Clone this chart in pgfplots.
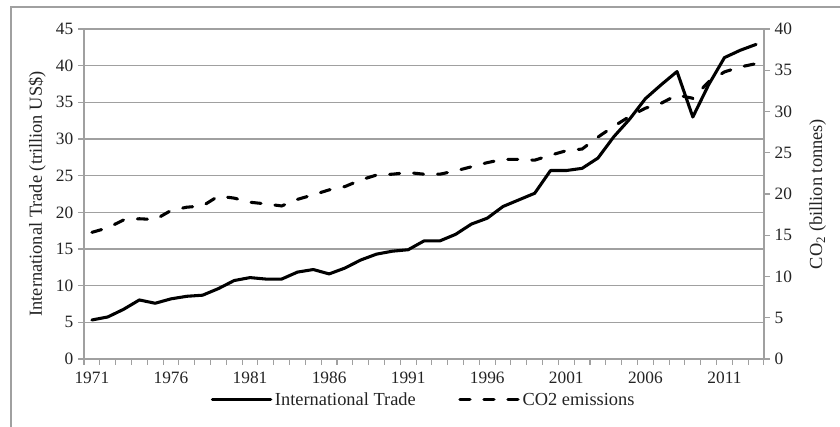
\documentclass[border=0pt]{standalone}
\usepackage{pgfplots}
\pgfplotsset{compat=1.18}
\usepackage{fontspec}
\setmainfont{Liberation Serif}
\definecolor{gridgray}{RGB}{160,160,160}
\definecolor{txt}{RGB}{35,35,35}
\begin{document}
\begin{tikzpicture}[x=0.75pt,y=0.75pt]
\path[use as bounding box] (0,0) rectangle (840,427);
\draw[gridgray, line width=0.9pt] (11,-10) -- (11,420) -- (850,420);
\pgfplotsset{
  common/.style={
    scale only axis, width=510pt, height=247.5pt,
    at={(63pt,51pt)}, anchor=south west,
    xmin=1970.5, xmax=2013.5,
    tick align=outside,
    major tick length=4.5pt, minor tick length=4.5pt,
    every tick/.style={gridgray, line width=0.8pt},
    axis line style={gridgray, line width=0.9pt},
    tick label style={font=\fontsize{13pt}{15pt}\selectfont, text=txt},
    label style={font=\fontsize{13.8pt}{16pt}\selectfont, text=txt},
    /pgf/number format/assume math mode=true,
    clip=false,
  }
}
\begin{axis}[common,
  axis y line*=left, axis x line*=bottom,
  ymin=0, ymax=45, ytick={0,5,...,45},
  ymajorgrids, grid style={gridgray, line width=0.9pt},
  xtick={1971,1976,...,2011},
  xticklabels={1971,1976,1981,1986,1991,1996,2001,2006,2011},
  major x tick style={draw=none},
  minor xtick={1970.5,1971.5,...,2013.5},
  xticklabel style={yshift=-1.5pt},
  ylabel={International Trade (trillion US\$)},
  y label style={at={(axis description cs:-0.069,0.5)}, anchor=center},
  legend style={at={(0.5,-0.124)}, anchor=center, draw=none, fill=none,
    legend columns=2, font=\fontsize{13.8pt}{16pt}\selectfont, text=txt,
    /tikz/every even column/.append style={column sep=30pt}},
  legend image code/.code={\draw[#1] (1.2pt,0pt) -- (45pt,0pt);},
]
\addplot[black, line width=2.3pt, line join=round, line cap=round] coordinates {
(1971,5.32) (1972,5.73) (1973,6.77) (1974,8.05) (1975,7.6) (1976,8.2)
(1977,8.55) (1978,8.7) (1979,9.6) (1980,10.7) (1981,11.1) (1982,10.9)
(1983,10.9) (1984,11.85) (1985,12.2) (1986,11.6) (1987,12.4) (1988,13.5)
(1989,14.3) (1990,14.7) (1991,14.9) (1992,16.1) (1993,16.1) (1994,17.0)
(1995,18.4) (1996,19.2) (1997,20.8) (1998,21.7) (1999,22.6) (2000,25.7)
(2001,25.7) (2002,26.0) (2003,27.4) (2004,30.3) (2005,32.7) (2006,35.5)
(2007,37.4) (2008,39.2) (2009,33.0) (2010,37.4) (2011,41.1) (2012,42.1)
(2013,42.9)};
\addlegendentry{International Trade}
\addlegendimage{black, line width=2.3pt, line cap=round, dash pattern=on 7.5pt off 10.5pt}
\addlegendentry{CO2 emissions}
\end{axis}
\begin{axis}[common,
  axis y line*=right, axis x line=none,
  ymin=0, ymax=40, ytick={0,5,...,40},
  ylabel={CO\textsubscript{2} (billion tonnes)},
  y label style={at={(axis description cs:1.079,0.5)}, anchor=center},
]
\addplot[black, line width=2.3pt, line cap=round, dash pattern=on 7.5pt off 10.5pt] coordinates {
(1971,15.35) (1972,15.9) (1973,16.85) (1974,17.0) (1975,16.9) (1976,18.0)
(1977,18.4) (1978,18.55) (1979,19.75) (1980,19.5) (1981,19.0) (1982,18.8)
(1983,18.55) (1984,19.35) (1985,19.9) (1986,20.5) (1987,20.9) (1988,21.7)
(1989,22.3) (1990,22.4) (1991,22.6) (1992,22.4) (1993,22.4) (1994,22.8)
(1995,23.3) (1996,23.8) (1997,24.2) (1998,24.2) (1999,24.1) (2000,24.7)
(2001,25.25) (2002,25.45) (2003,26.9) (2004,28.2) (2005,29.4) (2006,30.4)
(2007,31.0) (2008,32.0) (2009,31.6) (2010,33.6) (2011,34.8) (2012,35.4)
(2013,35.8)};
\end{axis}
\end{tikzpicture}
\end{document}
